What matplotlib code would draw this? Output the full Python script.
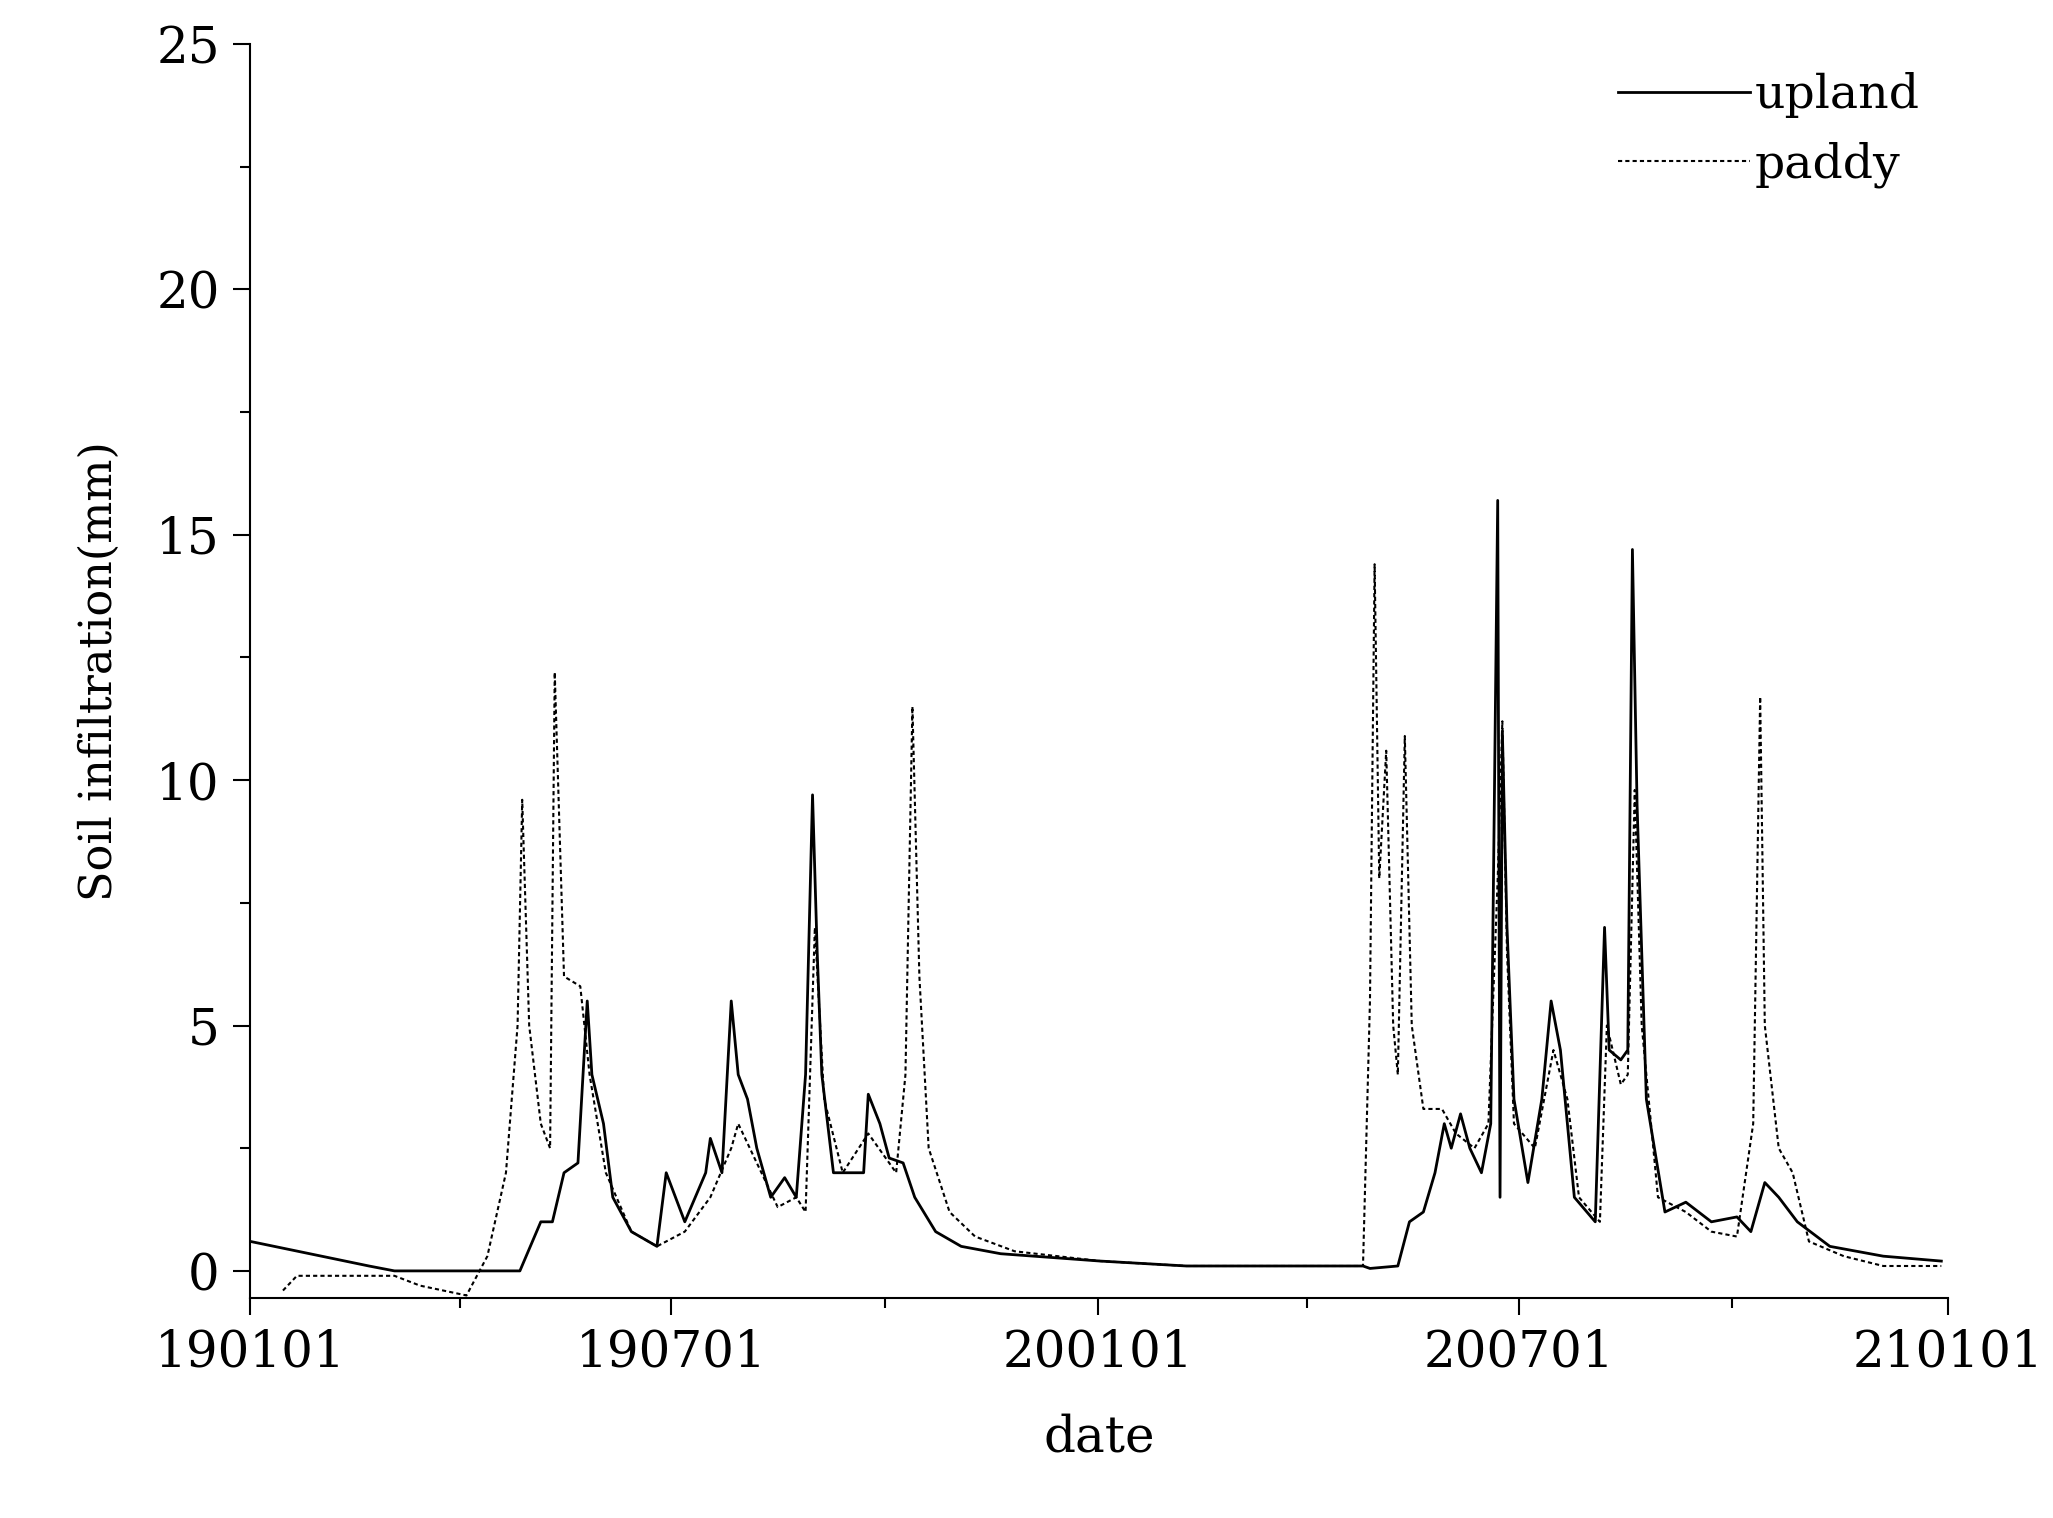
import numpy as np
import matplotlib.pyplot as plt
from matplotlib.ticker import MultipleLocator

# x = day index since 2019-01-01
upland_day = [0, 51, 62, 116, 125, 130, 135, 141, 145, 147, 152, 156, 164, 175, 179, 183, 187, 196, 198,
              203, 207, 210, 214, 218, 224, 230, 235, 239, 242, 244, 246, 251, 264, 266, 271, 275, 281,
              286, 295, 306, 323, 366, 403, 479, 482, 494, 499, 505, 510, 514, 517, 521, 525, 530, 534,
              537, 538, 539, 541, 544, 550, 556, 560, 564, 570, 579, 583, 585, 590, 593, 595, 597, 601,
              609, 618, 629, 640, 646, 652, 658, 666, 680, 703, 728]
upland_val = [0.6, 0.1, 0.0, 0.0, 1.0, 1.0, 2.0, 2.2, 5.5, 4.0, 3.0, 1.5, 0.8, 0.5, 2.0, 1.5, 1.0, 2.0, 2.7,
              2.0, 5.5, 4.0, 3.5, 2.5, 1.5, 1.9, 1.5, 4.0, 9.7, 6.5, 4.0, 2.0, 2.0, 3.6, 3.0, 2.3, 2.2,
              1.5, 0.8, 0.5, 0.35, 0.2, 0.1, 0.1, 0.05, 0.1, 1.0, 1.2, 2.0, 3.0, 2.5, 3.2, 2.5, 2.0, 3.0,
              15.7, 1.5, 11.0, 7.0, 3.5, 1.8, 3.5, 5.5, 4.5, 1.5, 1.0, 7.0, 4.5, 4.3, 4.5, 14.7, 9.5, 3.5,
              1.2, 1.4, 1.0, 1.1, 0.8, 1.8, 1.5, 1.0, 0.5, 0.3, 0.2]

paddy_day = [14, 20, 62, 73, 93, 102, 110, 115, 117, 120, 125, 129, 131, 135, 142, 146, 153, 164, 175,
             187, 198, 207, 210, 218, 227, 235, 239, 243, 247, 255, 266, 278, 282, 285, 288, 292, 301,
             312, 329, 366, 403, 479, 482, 484, 486, 489, 492, 494, 497, 500, 505, 513, 519, 527, 533,
             537, 539, 541, 544, 553, 561, 567, 572, 581, 584, 590, 593, 596, 599, 606, 618, 629, 640,
             647, 650, 652, 658, 664, 671, 686, 703, 728]
paddy_val = [-0.4, -0.1, -0.1, -0.3, -0.5, 0.3, 2.0, 5.0, 9.6, 5.0, 3.0, 2.5, 12.2, 6.0, 5.8, 4.0, 2.0,
             0.8, 0.5, 0.8, 1.5, 2.5, 3.0, 2.2, 1.3, 1.5, 1.2, 7.0, 3.5, 2.0, 2.8, 2.0, 4.0, 11.5, 6.0,
             2.5, 1.2, 0.7, 0.4, 0.2, 0.1, 0.1, 5.5, 14.4, 8.0, 10.6, 5.0, 4.0, 10.9, 5.0, 3.3, 3.3, 2.8,
             2.5, 3.0, 8.0, 11.2, 6.5, 3.0, 2.5, 4.5, 3.5, 1.5, 1.0, 5.0, 3.8, 4.0, 9.8, 5.0, 1.5, 1.2,
             0.8, 0.7, 3.0, 11.7, 5.0, 2.5, 2.0, 0.6, 0.3, 0.1, 0.1]

tick_days = [0, 181, 365, 546, 731]
tick_labels = ["190101", "190701", "200101", "200701", "210101"]

plt.rcParams['font.family'] = ['DejaVu Serif']
fig = plt.figure(figsize=(20.53, 15.18), dpi=100)
ax = fig.add_axes([0.122, 0.145, 0.827, 0.826])
ax.plot(upland_day, upland_val, color='black', lw=2, label='upland')
ax.plot(paddy_day, paddy_val, color='black', lw=1.5, ls=(0, (2, 1.5)), label='paddy')

ax.set_xlim(0, 731)
ax.set_ylim(-0.55, 25)
ax.set_xticks(tick_days)
ax.set_xticklabels(tick_labels)
ax.set_xticks([90, 273, 455, 638], minor=True)
ax.yaxis.set_major_locator(MultipleLocator(5))
ax.yaxis.set_minor_locator(MultipleLocator(2.5))
ax.tick_params(which='major', length=12, width=1.5, labelsize=36, pad=10)
ax.tick_params(which='minor', length=7, width=1.5)
for s in ['top', 'right']:
    ax.spines[s].set_visible(False)
for s in ['left', 'bottom']:
    ax.spines[s].set_linewidth(1.5)
ax.set_xlabel('date', fontsize=36, labelpad=25)
ax.set_ylabel('Soil infiltration(mm)', fontsize=32, labelpad=25)
ax.legend(loc='upper right', frameon=False, fontsize=34, handlelength=2.8,
          handletextpad=0.1, borderaxespad=0.2)
fig.savefig('out.png', dpi=100)
